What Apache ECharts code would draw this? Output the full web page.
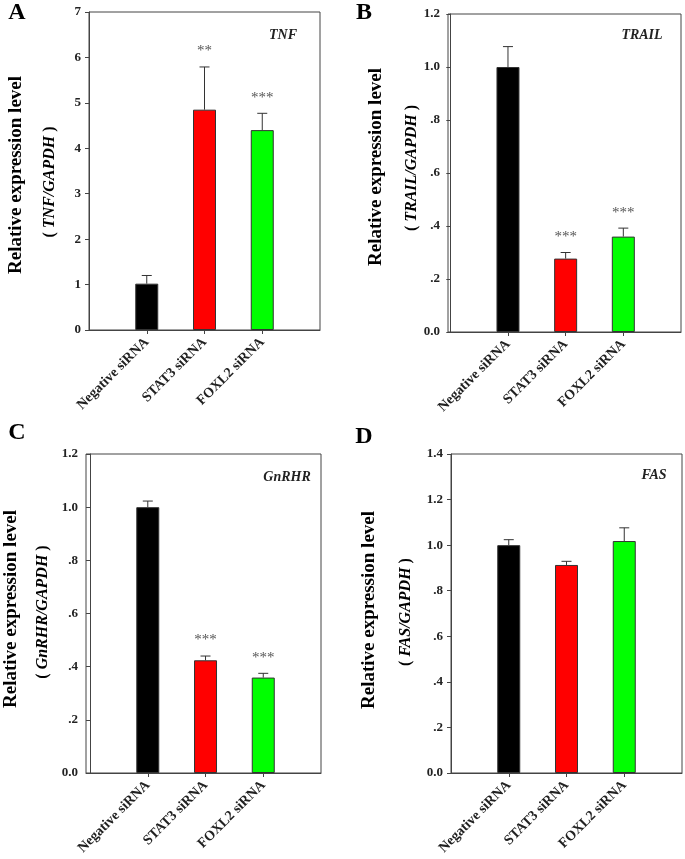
<!DOCTYPE html>
<html>
<head>
<meta charset="utf-8">
<script src="https://cdn.jsdelivr.net/npm/echarts@6/dist/echarts.min.js"></script>
<style>
html,body{margin:0;padding:0;background:#fff;}
#chart{width:685px;height:859px;}
</style>
</head>
<body>
<div id="chart"></div>
<script>
// ---- data ----
const categories = ['Negative siRNA', 'STAT3 siRNA', 'FOXL2 siRNA'];
const barColors = ['#000000', '#ff0000', '#00ff00'];

const panelLetters = ['A', 'B', 'C', 'D'];
const geneNames = ['TNF', 'TRAIL', 'GnRHR', 'FAS'];

const tnfMean = [1.02, 4.85, 4.40];
const tnfUpper = [1.20, 5.79, 4.77];
const tnfSig = ['', '**', '***'];

const trailMean = [1.00, 0.277, 0.360];
const trailUpper = [1.077, 0.300, 0.392];
const trailSig = ['', '***', '***'];

const gnrhrMean = [1.00, 0.424, 0.359];
const gnrhrUpper = [1.023, 0.440, 0.375];
const gnrhrSig = ['', '***', '***'];

const fasMean = [1.00, 0.913, 1.018];
const fasUpper = [1.024, 0.929, 1.076];
const fasSig = ['', '', ''];

const yMax = [7, 1.2, 1.2, 1.4];
const yStep = [1, 0.2, 0.2, 0.2];

// ---- layout ----
const FONT = '"Liberation Serif", "Times New Roman", serif';
const AXIS_COLOR = '#444';
const grids = [
  {left: 89, top: 12, width: 231, height: 318},
  {left: 448, top: 14, width: 233, height: 318},
  {left: 86, top: 454, width: 235, height: 319},
  {left: 451, top: 454, width: 231, height: 319}
];
const xMin = [0, -0.04, -0.07, 0];
const letterPos = [[17, 13], [364, 13], [17, 433], [364, 437]];
const titlePos = [[16, 175, 50, 182], [376, 167, 412, 168], [11, 609, 43, 612], [369, 610, 406, 612]];
const genePos = [[283, 35], [642, 35], [287, 477], [654, 475]];

const panels = [
  {mean: tnfMean, upper: tnfUpper, sig: tnfSig},
  {mean: trailMean, upper: trailUpper, sig: trailSig},
  {mean: gnrhrMean, upper: gnrhrUpper, sig: gnrhrSig},
  {mean: fasMean, upper: fasUpper, sig: fasSig}
];

function yFmt(i) {
  return function (v) {
    if (yStep[i] >= 1) return String(Math.round(v));
    if (v === 0) return '0.0';
    const s = v.toFixed(1);
    return v >= 1 ? s : s.replace(/^0/, '');
  };
}

const option = {
  backgroundColor: '#fff',
  animation: false,
  grid: [], xAxis: [], yAxis: [], series: [], graphic: []
};

panels.forEach(function (p, i) {
  const g = grids[i];
  option.grid.push({
    left: g.left, top: g.top, width: g.width, height: g.height,
    show: true, borderColor: AXIS_COLOR, borderWidth: 1, backgroundColor: 'transparent'
  });
  option.xAxis.push({
    type: 'value', gridIndex: i, min: xMin[i], max: 4,
    splitLine: {show: false},
    axisLine: {show: true, onZero: false, lineStyle: {color: AXIS_COLOR, width: 1}},
    axisTick: {show: true, customValues: [1, 2, 3], length: 4, lineStyle: {color: AXIS_COLOR}},
    axisLabel: {
      show: true, customValues: [1, 2, 3], rotate: 45, margin: 10,
      formatter: function (v) { return categories[Math.round(v) - 1] || ''; },
      fontFamily: FONT, fontWeight: 'bold', fontSize: 14, color: '#222'
    }
  });
  option.yAxis.push({
    type: 'value', gridIndex: i, min: 0, max: yMax[i], interval: yStep[i],
    splitLine: {show: false},
    axisLine: {show: true, lineStyle: {color: AXIS_COLOR, width: 1}},
    axisTick: {show: true, length: 4, lineStyle: {color: AXIS_COLOR}},
    axisLabel: {
      margin: 8, formatter: yFmt(i),
      fontFamily: FONT, fontWeight: 'bold', fontSize: 13, color: '#222'
    }
  });
  option.series.push({
    type: 'bar', xAxisIndex: i, yAxisIndex: i, barWidth: 23,
    data: p.mean.map(function (v, k) {
      return {value: [k + 1, v], itemStyle: {color: barColors[k]}};
    }),
    itemStyle: {borderColor: '#333', borderWidth: 1}
  });
  const sig = p.sig;
  option.series.push({
    type: 'custom', xAxisIndex: i, yAxisIndex: i, z: 5,
    data: p.mean.map(function (v, k) { return [k + 1, v, p.upper[k]]; }),
    renderItem: function (params, api) {
      const x = api.value(0), m = api.value(1), u = api.value(2);
      const p0 = api.coord([x, m]);
      const p1 = api.coord([x, u]);
      const st = {stroke: '#333', lineWidth: 1};
      const children = [
        {type: 'line', shape: {x1: p0[0], y1: p0[1], x2: p1[0], y2: p1[1]}, style: st},
        {type: 'line', shape: {x1: p1[0] - 5, y1: p1[1], x2: p1[0] + 5, y2: p1[1]}, style: st}
      ];
      const s = sig[params.dataIndex];
      if (s) {
        children.push({
          type: 'text',
          style: {
            x: p1[0], y: p1[1] - 8, text: s, align: 'center', verticalAlign: 'bottom',
            font: '15px ' + FONT, fill: '#555'
          }
        });
      }
      return {type: 'group', children: children};
    }
  });
  // panel letter
  option.graphic.push({
    type: 'text', x: letterPos[i][0], y: letterPos[i][1],
    style: {text: panelLetters[i], align: 'center', verticalAlign: 'middle',
      font: 'bold 24px ' + FONT, fill: '#000'}
  });
  // y titles
  const tp = titlePos[i];
  option.graphic.push({
    type: 'text', x: tp[0], y: tp[1], rotation: Math.PI / 2,
    style: {text: 'Relative expression level', align: 'center', verticalAlign: 'middle',
      font: 'bold 19px ' + FONT, fill: '#000'}
  });
  option.graphic.push({
    type: 'text', x: tp[2], y: tp[3], rotation: Math.PI / 2,
    style: {
      text: '{p|( }{g|' + geneNames[i] + '/GAPDH}{p| )}',
      align: 'center', verticalAlign: 'middle',
      rich: {
        p: {font: 'bold 16px ' + FONT, fill: '#000'},
        g: {font: 'italic bold 16px ' + FONT, fill: '#000'}
      }
    }
  });
  // gene label
  option.graphic.push({
    type: 'text', x: genePos[i][0], y: genePos[i][1],
    style: {text: geneNames[i], align: 'center', verticalAlign: 'middle',
      font: 'italic bold 14px ' + FONT, fill: '#222'}
  });
});

const chart = echarts.init(document.getElementById('chart'), null, {renderer: 'canvas'});
chart.setOption(option);
</script>
</body>
</html>
